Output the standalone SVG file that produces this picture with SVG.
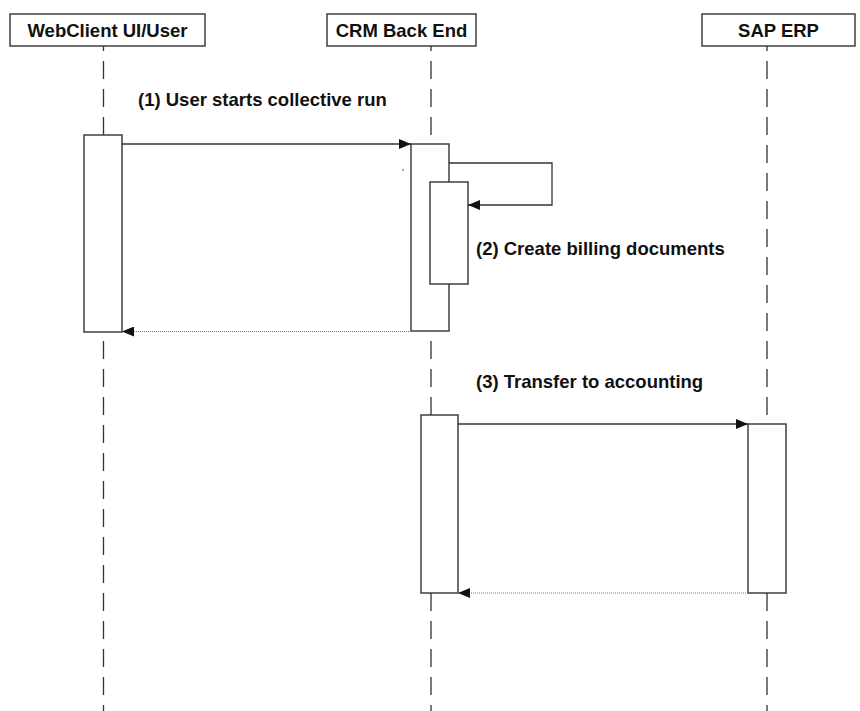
<svg xmlns="http://www.w3.org/2000/svg" width="860" height="711" viewBox="0 0 860 711">
  <style>
    .box { fill: #fff; stroke: #333; stroke-width: 1.4; }
    .life { stroke: #333; stroke-width: 1.3; stroke-dasharray: 18 10; fill: none; }
    .msg { stroke: #333; stroke-width: 1.3; fill: none; }
    .ret { stroke: #777; stroke-width: 1.2; stroke-dasharray: 1 1; fill: none; }
    .hd { font-family: "Liberation Sans", Arial, sans-serif; font-weight: bold; font-size: 18.5px; fill: #111; text-anchor: middle; }
    .lbl { font-family: "Liberation Sans", Arial, sans-serif; font-weight: bold; font-size: 18.5px; fill: #111; }
  </style>
  <defs>
    <marker id="arrow" viewBox="0 0 12 10" refX="12" refY="5" markerWidth="12" markerHeight="10" markerUnits="userSpaceOnUse" orient="auto">
      <path d="M0,0 L12,5 L0,10 z" fill="#111"/>
    </marker>
  </defs>
  <rect width="860" height="711" fill="#fff"/>

  <!-- lifelines -->
  <g id="lifelines">
    <line class="life" x1="103.5" y1="33" x2="103.5" y2="711"/>
    <line class="life" x1="431" y1="33" x2="431" y2="711"/>
    <line class="life" x1="767" y1="33" x2="767" y2="711"/>
  </g>

  <!-- participants -->
  <g id="webclient">
    <rect class="box" x="10" y="14" width="195" height="32"/>
    <text class="hd" x="107.5" y="37">WebClient UI/User</text>
  </g>
  <g id="crm">
    <rect class="box" x="327" y="14" width="149" height="32"/>
    <text class="hd" x="401.5" y="37">CRM Back End</text>
  </g>
  <g id="sap">
    <rect class="box" x="702" y="14" width="153" height="32"/>
    <text class="hd" x="778.5" y="37">SAP ERP</text>
  </g>

  <!-- activations -->
  <g id="act-webclient">
    <rect class="box" x="84" y="135" width="38" height="197"/>
  </g>
  <g id="act-crm-1">
    <rect class="box" x="411" y="144" width="38" height="187"/>
  </g>
  <g id="act-crm-nested">
    <rect class="box" x="430" y="182" width="38" height="102"/>
  </g>
  <g id="act-crm-2">
    <rect class="box" x="421" y="415" width="37" height="178"/>
  </g>
  <g id="act-sap">
    <rect class="box" x="748" y="424" width="38" height="169"/>
  </g>

  <!-- messages -->
  <g id="connectors">
    <line class="msg" x1="122" y1="144" x2="411" y2="144" marker-end="url(#arrow)"/>
    <polyline class="msg" points="449,163 552,163 552,205 468,205" marker-end="url(#arrow)"/>
    <line class="ret" x1="411" y1="331.5" x2="122" y2="331.5" marker-end="url(#arrow)"/>
    <line class="msg" x1="458" y1="424" x2="748" y2="424" marker-end="url(#arrow)"/>
    <line class="ret" x1="748" y1="593" x2="458" y2="593" marker-end="url(#arrow)"/>
  </g>

  <circle cx="403" cy="170" r="0.8" fill="#333"/>

  <!-- labels -->
  <g id="labels">
    <text class="lbl" x="138" y="106">(1) User starts collective run</text>
    <text class="lbl" x="476" y="255">(2) Create billing documents</text>
    <text class="lbl" x="476" y="388">(3) Transfer to accounting</text>
  </g>
</svg>
